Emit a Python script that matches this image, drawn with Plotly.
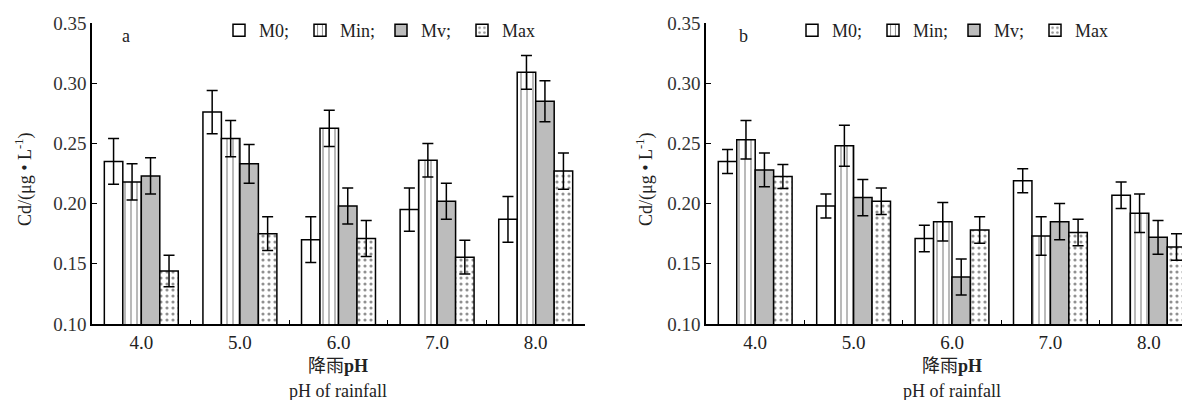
import plotly.graph_objects as go

categories = ["4.0", "5.0", "6.0", "7.0", "8.0"]
series_names = ["M0;", "Min;", "Mv;", "Max"]

a_M0 = [0.235, 0.276, 0.170, 0.195, 0.187]
a_M0_err = [0.019, 0.018, 0.019, 0.018, 0.019]
a_Min = [0.218, 0.254, 0.2625, 0.236, 0.309]
a_Min_err = [0.015, 0.015, 0.015, 0.014, 0.014]
a_Mv = [0.223, 0.233, 0.198, 0.202, 0.285]
a_Mv_err = [0.015, 0.016, 0.015, 0.015, 0.017]
a_Max = [0.144, 0.175, 0.171, 0.1555, 0.227]
a_Max_err = [0.013, 0.014, 0.015, 0.014, 0.015]

b_M0 = [0.235, 0.198, 0.171, 0.219, 0.207]
b_M0_err = [0.010, 0.010, 0.011, 0.010, 0.011]
b_Min = [0.253, 0.248, 0.185, 0.173, 0.192]
b_Min_err = [0.016, 0.017, 0.016, 0.016, 0.016]
b_Mv = [0.228, 0.205, 0.139, 0.185, 0.172]
b_Mv_err = [0.014, 0.015, 0.015, 0.015, 0.014]
b_Max = [0.2225, 0.202, 0.178, 0.176, 0.164]
b_Max_err = [0.010, 0.011, 0.011, 0.011, 0.011]

y_ticks = [0.10, 0.15, 0.20, 0.25, 0.30, 0.35]

FONT = "Liberation Serif, Times New Roman, Noto Sans CJK SC, serif"

styles = [
    dict(color="white", pattern=dict(shape="")),
    dict(color="white", pattern=dict(shape="|", fgcolor="black", bgcolor="white", size=6, solidity=0.18)),
    dict(color="#bcbcbc", pattern=dict(shape="")),
    dict(color="white", pattern=dict(shape=".", fgcolor="#222222", bgcolor="white", size=6, solidity=0.22)),
]

fig = go.Figure()

panels = [
    ("x", "y", "legend", [a_M0, a_Min, a_Mv, a_Max], [a_M0_err, a_Min_err, a_Mv_err, a_Max_err]),
    ("x2", "y2", "legend2", [b_M0, b_Min, b_Mv, b_Max], [b_M0_err, b_Min_err, b_Mv_err, b_Max_err]),
]

for xa, ya, lg, vals, errs in panels:
    for name, v, e, st in zip(series_names, vals, errs, styles):
        fig.add_trace(go.Bar(
            x=categories, y=v, name=name, xaxis=xa, yaxis=ya, legend=lg,
            marker=dict(color=st["color"], pattern=st["pattern"],
                        line=dict(color="black", width=1.5)),
            error_y=dict(type="data", array=e, visible=True, color="black",
                         thickness=1.5, width=5.5),
        ))

axis_common_x = dict(
    type="category", range=[-0.5, 4.5], showline=True, linecolor="black", linewidth=1.5,
    ticks="inside", tickson="boundaries", ticklen=4, tickcolor="black", tickwidth=1.2,
    showgrid=False, zeroline=False, tickfont=dict(family=FONT, size=19, color="#222"),
    automargin=False,
)
axis_common_y = dict(
    range=[0.10, 0.35], tickvals=y_ticks, tickformat=".2f", showline=True,
    linecolor="black", linewidth=1.5, ticks="inside", ticklen=5, tickcolor="black",
    tickwidth=1.2, showgrid=False, zeroline=False,
    tickfont=dict(family=FONT, size=19, color="#333"), automargin=False,
)

W, H = 1190, 400
mt, mb = 15, 84

legend_common = dict(orientation="h", y=0.975, yanchor="middle", xanchor="right",
                     font=dict(family=FONT, size=18, color="#222"), itemwidth=30,
                     entrywidth=36, entrywidthmode="pixels",
                     bgcolor="rgba(0,0,0,0)", tracegroupgap=0)

fig.update_layout(
    width=W, height=H,
    margin=dict(l=0, r=0, t=mt, b=mb),
    paper_bgcolor="white", plot_bgcolor="white",
    barmode="group", bargap=0.25, bargroupgap=0,
    font=dict(family=FONT, size=17, color="#222"),
    xaxis=dict(domain=[84 / W, 577 / W], anchor="y", **axis_common_x),
    yaxis=dict(domain=[0, 1], anchor="x", **axis_common_y),
    xaxis2=dict(domain=[698 / W, 1.0], anchor="y2", **axis_common_x),
    yaxis2=dict(domain=[0, 1], anchor="x2", **axis_common_y),
    legend=dict(x=535 / W, **legend_common),
    legend2=dict(x=1108 / W, **legend_common),
    showlegend=True,
)

ph = (H - mt - mb)
def py(pix):
    return (H - mb - pix) / ph

annots = [
    dict(text="a", x=118 / W, y=py(28)),
    dict(text="b", x=735 / W, y=py(28)),
    dict(text="降雨<b>pH</b>", x=330 / W, y=py(358)),
    dict(text="pH of rainfall", x=330 / W, y=py(383)),
    dict(text="降雨<b>pH</b>", x=944 / W, y=py(358)),
    dict(text="pH of rainfall", x=944 / W, y=py(383)),
]
for a in annots:
    fig.add_annotation(xref="paper", yref="paper", showarrow=False,
                       xanchor="center", yanchor="middle",
                       font=dict(family=FONT, size=18, color="#222"), **a)

for xp in (16, 637):
    fig.add_annotation(xref="paper", yref="paper", showarrow=False,
                       text="Cd/(μg • L<sup>-1</sup>)", textangle=-90,
                       x=xp / W, y=py(172), xanchor="center", yanchor="middle",
                       font=dict(family=FONT, size=18, color="#222"))

fig.write_html("out.html")
